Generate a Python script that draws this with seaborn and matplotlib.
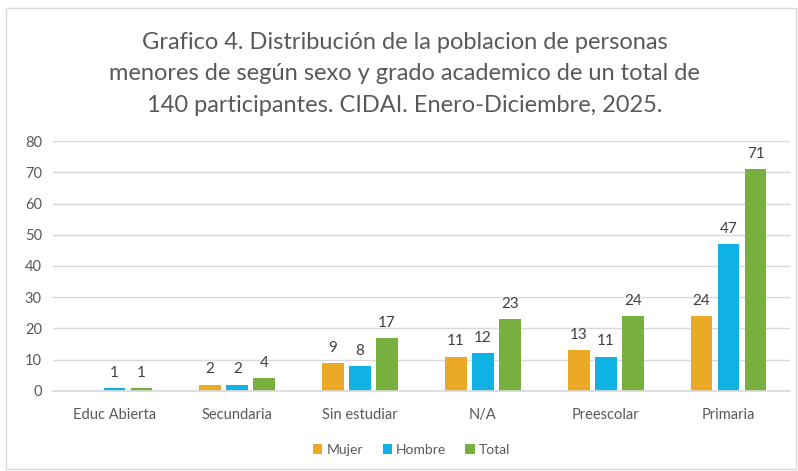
import matplotlib
matplotlib.use("Agg")
import matplotlib.pyplot as plt
import seaborn as sns
import pandas as pd
from matplotlib.patches import Rectangle

categories = ["Educ Abierta", "Secundaria", "Sin estudiar", "N/A", "Preescolar", "Primaria"]
mujer = [0, 2, 9, 11, 13, 24]
hombre = [1, 2, 8, 12, 11, 47]
total = [1, 4, 17, 23, 24, 71]
series_names = ["Mujer", "Hombre", "Total"]
colors = ["#EAAA26", "#10B2E4", "#78B040"]
title = ("Grafico 4. Distribución de la poblacion de personas\n"
         "menores de según sexo y grado academico de un total de\n"
         "140 participantes. CIDAI. Enero-Diciembre, 2025.")

rows = []
for name, vals in zip(series_names, [mujer, hombre, total]):
    for c, v in zip(categories, vals):
        rows.append({"cat": c, "serie": name, "val": v})
df = pd.DataFrame(rows)

sns.set_theme(style="white")
plt.rcParams["font.family"] = ["Lato", "DejaVu Sans"]

fig = plt.figure(figsize=(7.98, 4.71), dpi=100)
ax = fig.add_axes([0.0664, 0.1699, 0.9236, 0.5307])

sns.barplot(data=df, x="cat", y="val", hue="serie", order=categories,
            hue_order=series_names, palette=colors, width=0.66, gap=0.2,
            saturation=1, ax=ax, legend=True, errorbar=None, linewidth=0)

for cont in ax.containers:
    labels = [("" if v == 0 else f"{int(v)}") for v in cont.datavalues]
    ax.bar_label(cont, labels=labels, padding=6, fontsize=11, color="#404040")

ax.set_ylim(0, 80)
ax.set_xlim(-0.5, 5.5)
ax.set_yticks(range(0, 81, 10))
ax.yaxis.grid(True, color="#D9D9D9", linewidth=1)
ax.set_axisbelow(True)
for s in ["left", "right", "top"]:
    ax.spines[s].set_visible(False)
ax.spines["bottom"].set_color("#D9D9D9")
ax.tick_params(axis="both", length=0, labelsize=10.5, colors="#595959", pad=8)
ax.tick_params(axis="x", pad=12)
ax.set_xlabel("")
ax.set_ylabel("")

leg = ax.legend(loc="center", bbox_to_anchor=(0.516, 0.045), bbox_transform=fig.transFigure,
                ncol=3, frameon=False, fontsize=10, handlelength=0.65, handleheight=0.65,
                handletextpad=0.3, columnspacing=1.4)
for t in leg.get_texts():
    t.set_color("#595959")

fig.text(0.507, 0.843, title, ha="center", va="center", fontsize=17,
         color="#595959", linespacing=1.6)

fig.patches.append(Rectangle((6 / 798, 2 / 471), 790 / 798, 461 / 471, transform=fig.transFigure,
                             fill=False, edgecolor="#D9D9D9", linewidth=1))

fig.savefig("out.png", dpi=100)
